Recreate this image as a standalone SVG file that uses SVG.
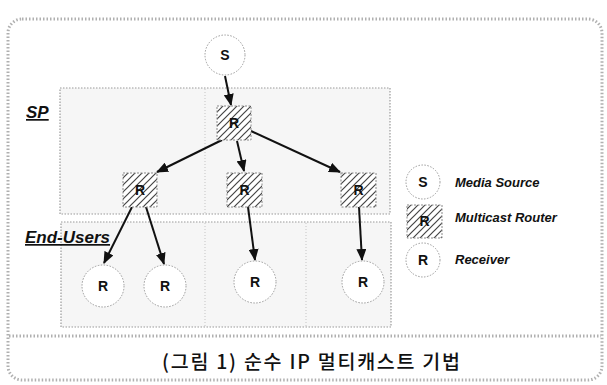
<svg xmlns="http://www.w3.org/2000/svg" width="607" height="385" viewBox="0 0 607 385">
  <style>
    .lbl { font-family: "Liberation Sans", Arial, sans-serif; font-weight: bold; font-style: italic; fill: #111; }
    .nt { font-family: "Liberation Sans", Arial, sans-serif; font-weight: bold; font-size: 14px; fill: #111; text-anchor: middle; }
    .circ { fill: #ffffff; stroke: #9a9a9a; stroke-width: 1; stroke-dasharray: 1.5 1.5; }
    .router { fill: url(#hatch); stroke: #888; stroke-width: 1; stroke-dasharray: 2 1.5; }
    .box { fill: #f6f6f6; stroke: #9a9a9a; stroke-width: 1.2; stroke-dasharray: 1.5 1.5; }
    .div { stroke: #c4c4c4; stroke-width: 1; stroke-dasharray: 1 2; fill: none; }
    .frame { fill: none; stroke: #b0b0b0; stroke-width: 3; stroke-dasharray: 1.5 2; }
    .arrow { stroke: #111; stroke-width: 2; fill: none; marker-end: url(#ah); }
  </style>
  <defs>
    <pattern id="hatch" patternUnits="userSpaceOnUse" width="7" height="7">
      <rect width="7" height="7" fill="#ffffff"/>
      <path d="M0,7 L7,0 M-1,1 L1,-1 M6,8 L8,6" stroke="#444" stroke-width="1.2"/>
    </pattern>
    <marker id="ah" markerUnits="userSpaceOnUse" markerWidth="12" markerHeight="10" refX="11" refY="5" orient="auto">
      <path d="M0,0 L12,5 L0,10 Z" fill="#111"/>
    </marker>
  </defs>

  <rect width="607" height="385" fill="#ffffff"/>

  <!-- outer frame -->
  <g id="frame">
    <rect class="frame" x="8" y="19" width="594" height="361" rx="14" ry="14"/>
    <line class="frame" x1="9" y1="336" x2="601" y2="336" stroke-width="2.5"/>
  </g>

  <!-- regions -->
  <g id="sp-region">
    <rect class="box" x="60" y="88" width="330" height="126"/>
    <line class="div" x1="205" y1="89" x2="205" y2="213"/>
    <text class="lbl" x="26" y="118" font-size="17" text-decoration="underline">SP</text>
  </g>
  <g id="endusers-region">
    <rect class="box" x="61" y="222" width="330" height="105"/>
    <line class="div" x1="205" y1="223" x2="205" y2="326"/>
    <line class="div" x1="306" y1="223" x2="306" y2="326"/>
    <text class="lbl" x="25" y="243" font-size="17" text-decoration="underline">End-Users</text>
  </g>

  <!-- connectors -->
  <g id="connectors">
    <line class="arrow" x1="225" y1="76" x2="231" y2="105"/>
    <line class="arrow" x1="222" y1="140" x2="157" y2="172"/>
    <line class="arrow" x1="237" y1="141" x2="244" y2="171"/>
    <line class="arrow" x1="251" y1="131" x2="340" y2="172"/>
    <line class="arrow" x1="132" y1="207" x2="104" y2="263"/>
    <line class="arrow" x1="146" y1="207" x2="164" y2="264"/>
    <line class="arrow" x1="248" y1="207" x2="255" y2="260"/>
    <line class="arrow" x1="359" y1="207" x2="362" y2="260"/>
  </g>

  <!-- nodes -->
  <g id="source">
    <circle class="circ" cx="225" cy="55" r="20"/>
    <text class="nt" x="225" y="60">S</text>
  </g>
  <g id="router-top">
    <rect class="router" x="217" y="106" width="34" height="34"/>
    <text class="nt" x="234" y="128">R</text>
  </g>
  <g id="router-left">
    <rect class="router" x="123" y="173" width="34" height="34"/>
    <text class="nt" x="140" y="195">R</text>
  </g>
  <g id="router-mid">
    <rect class="router" x="227" y="173" width="35" height="34"/>
    <text class="nt" x="244.5" y="195">R</text>
  </g>
  <g id="router-right">
    <rect class="router" x="341" y="173" width="35" height="34"/>
    <text class="nt" x="358.5" y="195">R</text>
  </g>
  <g id="receiver-1">
    <circle class="circ" cx="103" cy="286" r="21"/>
    <text class="nt" x="103" y="291">R</text>
  </g>
  <g id="receiver-2">
    <circle class="circ" cx="165" cy="286" r="21"/>
    <text class="nt" x="165" y="291">R</text>
  </g>
  <g id="receiver-3">
    <circle class="circ" cx="255" cy="282" r="21"/>
    <text class="nt" x="255" y="287">R</text>
  </g>
  <g id="receiver-4">
    <circle class="circ" cx="363" cy="282" r="21"/>
    <text class="nt" x="363" y="287">R</text>
  </g>

  <!-- legend -->
  <g id="legend-source">
    <circle class="circ" cx="423" cy="182" r="17"/>
    <text class="nt" x="423" y="187">S</text>
    <text class="lbl" x="455" y="187" font-size="13">Media Source</text>
  </g>
  <g id="legend-router">
    <rect class="router" x="407" y="205" width="35" height="33"/>
    <text class="nt" x="424.5" y="226">R</text>
    <text class="lbl" x="455" y="222" font-size="13">Multicast Router</text>
  </g>
  <g id="legend-receiver">
    <circle class="circ" cx="423" cy="260" r="17"/>
    <text class="nt" x="423" y="265">R</text>
    <text class="lbl" x="455" y="264" font-size="13">Receiver</text>
  </g>

  <!-- caption -->
  <g id="caption">
    <text x="311" y="369" font-family="'Noto Sans CJK KR', 'Liberation Sans', sans-serif" font-size="19.5" font-weight="500" fill="#111" text-anchor="middle" textLength="298" lengthAdjust="spacing">(그림 1) 순수 IP 멀티캐스트 기법</text>
  </g>
</svg>
